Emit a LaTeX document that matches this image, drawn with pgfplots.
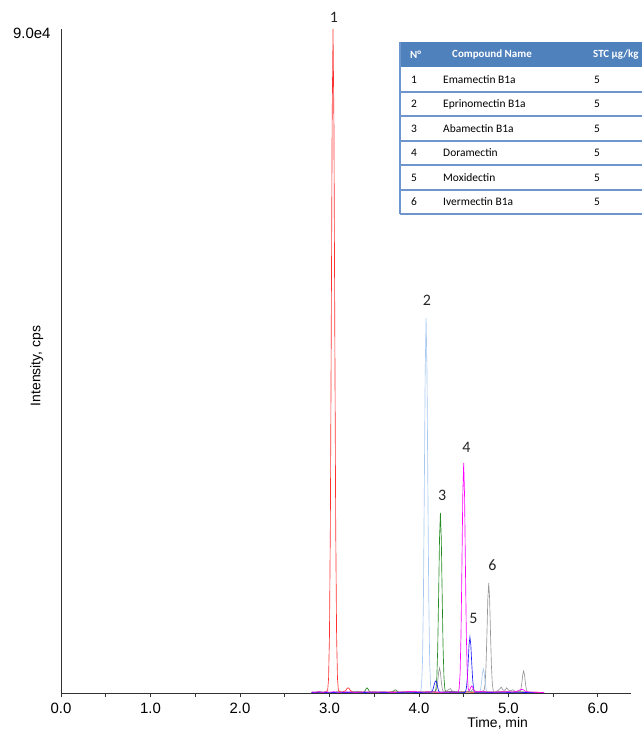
\documentclass[border=0pt]{standalone}
\usepackage{pgfplots}
\pgfplotsset{compat=1.18}
\usepackage{fontspec}
\setmainfont{Liberation Sans}
\newfontfamily\calib{Carlito}
\definecolor{cRed}{RGB}{255,50,50}
\definecolor{cLBlue}{RGB}{168,200,240}
\definecolor{cGreen}{RGB}{34,139,34}
\definecolor{cMag}{RGB}{255,0,255}
\definecolor{cBlue}{RGB}{30,30,255}
\definecolor{cGray}{RGB}{150,150,150}
\definecolor{hdr}{RGB}{79,129,189}
\definecolor{rowline}{RGB}{110,150,205}
\begin{document}
\begin{tikzpicture}
\path[use as bounding box] (-61bp,-38bp) rectangle (581bp,693bp);
\begin{axis}[
  at={(0,0)}, anchor=south west,
  scale only axis, width=570bp, height=664bp,
  xmin=0, xmax=6.37, ymin=0, ymax=90000,
  clip=false,
  axis x line=bottom, axis y line=left,
  axis line style={-, black!80, line width=0.8bp},
  xtick={0,1,2,3,4,5,6},
  xticklabels={0.0,1.0,2.0,3.0,4.0,5.0,6.0},
  minor xtick={0.5,1.5,2.5,3.5,4.5,5.5},
  tick align=outside,
  major tick length=4bp, minor tick length=4bp,
  xtick style={black!80, line width=0.8bp},
  minor x tick style={black!80, line width=0.8bp},
  ytick={90000}, yticklabels={9.0e4},
  ytick style={draw=none},
  scaled y ticks=false,
  /pgf/number format/assume math mode=true,
  tick label style={font=\fontsize{15}{17}\selectfont},
  xticklabel style={yshift=-2.5bp},
  yticklabel style={xshift=-3bp, yshift=-4bp},
  xlabel={Time, min},
  ylabel={Intensity, cps},
  label style={font=\fontsize{14}{16}\selectfont},
  xlabel style={at={(axis description cs:0.766,-0.0462)}, anchor=center},
  ylabel style={at={(axis description cs:-0.0426,0.4925)}, anchor=center},
  every axis plot/.append style={line width=0.65bp, mark=none},
]
% Ivermectin B1a (gray)
\addplot[cGray] coordinates {(2.80,80)(2.90,120)(3.00,60)(3.10,100)(3.20,70)(3.30,110)(3.40,80)(3.50,120)(3.60,70)(3.70,110)(3.80,80)(3.90,120)(4.00,80)(4.10,120)(4.18,150)(4.20,600)(4.21,1553)(4.22,2790)(4.23,3390)(4.24,2790)(4.25,1553)(4.26,583)(4.27,250)(4.30,200)(4.33,450)(4.35,600)(4.37,300)(4.40,150)(4.50,120)(4.58,200)(4.60,500)(4.62,300)(4.66,150)(4.70,200)(4.72,260)(4.73,450)(4.74,1267)(4.75,3713)(4.76,8036)(4.77,12780)(4.78,14910)(4.79,12780)(4.80,8036)(4.81,3713)(4.82,1267)(4.83,313)(4.84,120)(4.86,200)(4.88,300)(4.90,500)(4.92,800)(4.94,400)(4.96,350)(4.98,700)(5.00,400)(5.03,300)(5.05,450)(5.07,250)(5.10,200)(5.13,131)(5.14,513)(5.15,1365)(5.16,2453)(5.17,2980)(5.18,2453)(5.19,1365)(5.20,513)(5.21,131)(5.25,100)(5.30,80)(5.40,60)};
% Eprinomectin B1a (light blue)
\addplot[cLBlue] coordinates {(2.80,100)(2.90,150)(3.00,80)(3.10,140)(3.20,90)(3.30,160)(3.40,100)(3.50,140)(3.60,80)(3.70,150)(3.80,110)(3.90,160)(3.97,120)(4.01,150)(4.02,203)(4.03,1067)(4.04,4321)(4.05,12660)(4.06,27400)(4.07,43560)(4.08,50830)(4.09,43560)(4.10,27400)(4.11,12660)(4.12,4321)(4.13,1067)(4.14,203)(4.16,150)(4.20,120)(4.30,150)(4.40,100)(4.50,160)(4.60,120)(4.66,150)(4.68,143)(4.69,559)(4.70,1489)(4.71,2675)(4.72,3250)(4.73,2675)(4.74,1489)(4.75,559)(4.76,143)(4.78,100)(4.85,150)(4.95,100)(5.05,140)(5.15,90)(5.25,120)(5.35,70)};
% Abamectin B1a (green)
\addplot[cGreen] coordinates {(2.80,80)(2.90,120)(3.00,70)(3.10,140)(3.20,100)(3.30,150)(3.38,120)(3.39,200)(3.40,320)(3.41,576)(3.42,700)(3.43,576)(3.44,320)(3.45,160)(3.46,120)(3.50,100)(3.60,150)(3.68,100)(3.71,200)(3.72,300)(3.73,400)(3.74,420)(3.75,350)(3.76,200)(3.78,120)(3.85,150)(3.95,100)(4.05,160)(4.12,120)(4.17,150)(4.18,200)(4.19,512)(4.20,2074)(4.21,6076)(4.22,13150)(4.23,20910)(4.24,24400)(4.25,20910)(4.26,13150)(4.27,6076)(4.28,2074)(4.29,512)(4.30,150)(4.36,200)(4.45,120)(4.55,160)(4.65,100)(4.75,150)(4.85,110)(4.95,160)(5.05,100)(5.15,140)(5.25,90)(5.32,60)};
% Emamectin B1a (red)
\addplot[cRed] coordinates {(2.80,120)(2.84,60)(2.88,150)(2.92,80)(2.96,140)(2.98,360)(2.99,1890)(3.00,7650)(3.01,22410)(3.02,48510)(3.03,77130)(3.04,90000)(3.05,77130)(3.06,48510)(3.07,22410)(3.08,7650)(3.09,1890)(3.10,360)(3.12,120)(3.15,160)(3.18,300)(3.19,500)(3.20,650)(3.21,700)(3.22,600)(3.23,420)(3.25,180)(3.28,100)(3.33,150)(3.40,80)(3.50,140)(3.60,90)(3.70,150)(3.80,100)(3.90,160)(4.00,90)(4.10,140)(4.20,100)(4.30,130)(4.40,80)(4.50,150)(4.60,100)(4.70,120)(4.80,90)(4.90,140)(5.00,100)(5.10,130)(5.20,80)(5.30,110)(5.38,60)};
% Moxidectin (blue)
\addplot[cBlue] coordinates {(2.80,60)(2.90,100)(3.00,50)(3.10,90)(3.20,60)(3.30,100)(3.40,70)(3.50,110)(3.60,60)(3.70,90)(3.80,70)(3.90,100)(4.00,60)(4.10,100)(4.14,120)(4.15,300)(4.16,600)(4.17,1100)(4.18,1500)(4.19,1630)(4.20,1341)(4.21,747)(4.22,280)(4.23,120)(4.30,90)(4.40,110)(4.50,80)(4.51,60)(4.52,159)(4.53,645)(4.54,1890)(4.55,4091)(4.56,6505)(4.57,7590)(4.58,6505)(4.59,4091)(4.60,1890)(4.61,645)(4.62,159)(4.63,90)(4.70,100)(4.80,60)(4.90,110)(5.00,70)(5.10,100)(5.20,60)(5.30,80)};
% Doramectin (magenta)
\addplot[cMag] coordinates {(2.80,150)(2.84,100)(2.88,180)(2.92,90)(2.96,160)(3.00,110)(3.05,170)(3.10,100)(3.20,150)(3.30,90)(3.40,160)(3.50,110)(3.60,150)(3.70,90)(3.80,140)(3.90,180)(3.95,250)(3.98,150)(4.05,120)(4.15,160)(4.25,100)(4.35,150)(4.42,120)(4.44,130)(4.45,655)(4.46,2650)(4.47,7764)(4.48,16810)(4.49,26720)(4.50,31180)(4.51,26720)(4.52,16810)(4.53,7764)(4.54,2650)(4.55,655)(4.56,250)(4.57,500)(4.58,800)(4.59,950)(4.60,800)(4.61,450)(4.62,200)(4.65,150)(4.72,250)(4.75,150)(4.85,120)(4.95,180)(5.05,150)(5.10,250)(5.13,420)(5.15,500)(5.17,420)(5.19,200)(5.25,120)(5.32,100)(5.40,60)};
% peak numbers
\begin{scope}[every node/.style={font=\calib\fontsize{16}{18}\selectfont, text=black!85, inner sep=0pt}]
\node at (axis cs:3.05,91630) {1};
\node at (axis cs:4.09,53270) {2};
\node at (axis cs:4.26,26840) {3};
\node at (axis cs:4.53,33340) {4};
\node at (axis cs:4.61,10170) {5};
\node at (axis cs:4.82,17350) {6};
\end{scope}
\end{axis}
% compound table
\fill[hdr] (339bp,626bp) rectangle (582bp,651bp);
\foreach \yy in {601,577,552,528,503,479} {
  \draw[rowline, line width=1.1bp] (339bp,\yy bp) -- (582bp,\yy bp);
}
\draw[rowline, line width=1.1bp] (339bp,479bp) -- (339bp,651bp);
\begin{scope}[every node/.style={font=\calib\fontsize{11.5}{13}\selectfont, inner sep=0pt, anchor=west}]
\node[text=white, font=\calib\bfseries\fontsize{11}{13}\selectfont] at (349bp,638.5bp) {N°};
\node[text=white, font=\calib\bfseries\fontsize{11}{13}\selectfont] at (391bp,638.5bp) {Compound Name};
\node[text=white, font=\calib\bfseries\fontsize{11}{13}\selectfont] at (532bp,638.5bp) {STC µg/kg};
\node at (350bp,613.5bp) {1}; \node at (382bp,613.5bp) {Emamectin B1a}; \node at (533bp,613.5bp) {5};
\node at (350bp,589bp) {2}; \node at (382bp,589bp) {Eprinomectin B1a}; \node at (533bp,589bp) {5};
\node at (350bp,564.5bp) {3}; \node at (382bp,564.5bp) {Abamectin B1a}; \node at (533bp,564.5bp) {5};
\node at (350bp,540bp) {4}; \node at (382bp,540bp) {Doramectin}; \node at (533bp,540bp) {5};
\node at (350bp,515.5bp) {5}; \node at (382bp,515.5bp) {Moxidectin}; \node at (533bp,515.5bp) {5};
\node at (350bp,491bp) {6}; \node at (382bp,491bp) {Ivermectin B1a}; \node at (533bp,491bp) {5};
\end{scope}
\end{tikzpicture}
\end{document}
